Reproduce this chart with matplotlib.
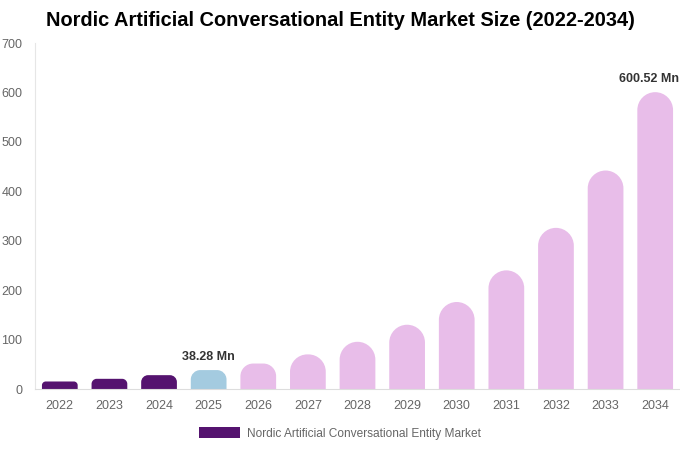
import matplotlib
matplotlib.use("Agg")
import matplotlib.pyplot as plt
from matplotlib.path import Path
from matplotlib.patches import PathPatch, Patch
from matplotlib.transforms import offset_copy

plt.rcParams['font.family'] = ['Liberation Sans', 'DejaVu Sans']

years = ['2022', '2023', '2024', '2025', '2026', '2027', '2028', '2029',
         '2030', '2031', '2032', '2033', '2034']
values = [15.2, 20.6, 28.0, 38.28, 51.5, 70.0, 95.5, 130.0, 176.0, 240.0,
          326.0, 442.0, 600.52]
bar_colors = ['#55136f', '#55136f', '#55136f', '#a4cbe0'] + ['#e8bde9'] * 9
labels = {3: '38.28 Mn', 12: '600.52 Mn'}
legend_label = 'Nordic Artificial Conversational Entity Market'
title = 'Nordic Artificial Conversational Entity Market Size (2022-2034)'

W, H = 680, 450
fig = plt.figure(figsize=(W / 100, H / 100), dpi=100)
left_px, right_px, top_px, bot_px = 35, 680, 43, 389
ax = fig.add_axes([left_px / W, (H - bot_px) / H,
                   (right_px - left_px) / W, (bot_px - top_px) / H])
ax.set_xlim(-0.5, len(years) - 0.5)
ax.set_ylim(0, 700)

px_x = (right_px - left_px) / len(years)
px_y = (bot_px - top_px) / 700.0
bw = 0.72
K = 0.5523

for i, (v, c) in enumerate(zip(values, bar_colors)):
    x0, x1 = i - bw / 2, i + bw / 2
    h_px = v * px_y
    r = min(bw * px_x / 2, h_px / 2)
    rx, ry = r / px_x, r / px_y
    verts = [(x0, 0), (x0, v - ry),
             (x0, v - ry + K * ry), (x0 + rx - K * rx, v), (x0 + rx, v),
             (x1 - rx, v),
             (x1 - rx + K * rx, v), (x1, v - ry + K * ry), (x1, v - ry),
             (x1, 0), (x0, 0)]
    codes = [Path.MOVETO, Path.LINETO,
             Path.CURVE4, Path.CURVE4, Path.CURVE4,
             Path.LINETO,
             Path.CURVE4, Path.CURVE4, Path.CURVE4,
             Path.LINETO, Path.CLOSEPOLY]
    ax.add_patch(PathPatch(Path(verts, codes), facecolor=c, edgecolor='none'))
    if i in labels:
        if i == len(years) - 1:
            # keep the last label inside the figure (right-aligned at edge)
            ax.text(12.5, v + 14, labels[i], ha='right', va='bottom', fontsize=9,
                    fontweight='bold', color='#333333', clip_on=False,
                    transform=offset_copy(ax.transData, fig=fig, x=-1, y=0, units='dots'))
        else:
            ax.text(i, v + 14, labels[i], ha='center', va='bottom', fontsize=9,
                    fontweight='bold', color='#333333', clip_on=False)

ax.set_xticks(range(len(years)))
ax.set_xticklabels(years)
ax.set_yticks(range(0, 701, 100))
ax.tick_params(axis='both', length=0, colors='#666666', labelsize=9)
ax.tick_params(axis='x', pad=8)
ax.tick_params(axis='y', pad=9)
for s in ['top', 'right']:
    ax.spines[s].set_visible(False)
ax.spines['left'].set_color('#e6e6e6')
ax.spines['bottom'].set_color('#dddddd')

fig.text(340 / W, 1 - 21 / H, title, ha='center', va='center',
         fontsize=14.4, fontweight='bold', color='#000000')

fig.legend(handles=[Patch(facecolor='#55136f', edgecolor='none', label=legend_label)],
           loc='center', bbox_to_anchor=(340 / W, 1 - 433.5 / H), frameon=False,
           fontsize=8.6, labelcolor='#666666', handlelength=3.4, handleheight=1.0,
           handletextpad=0.55)

fig.savefig('out.png', dpi=100)
